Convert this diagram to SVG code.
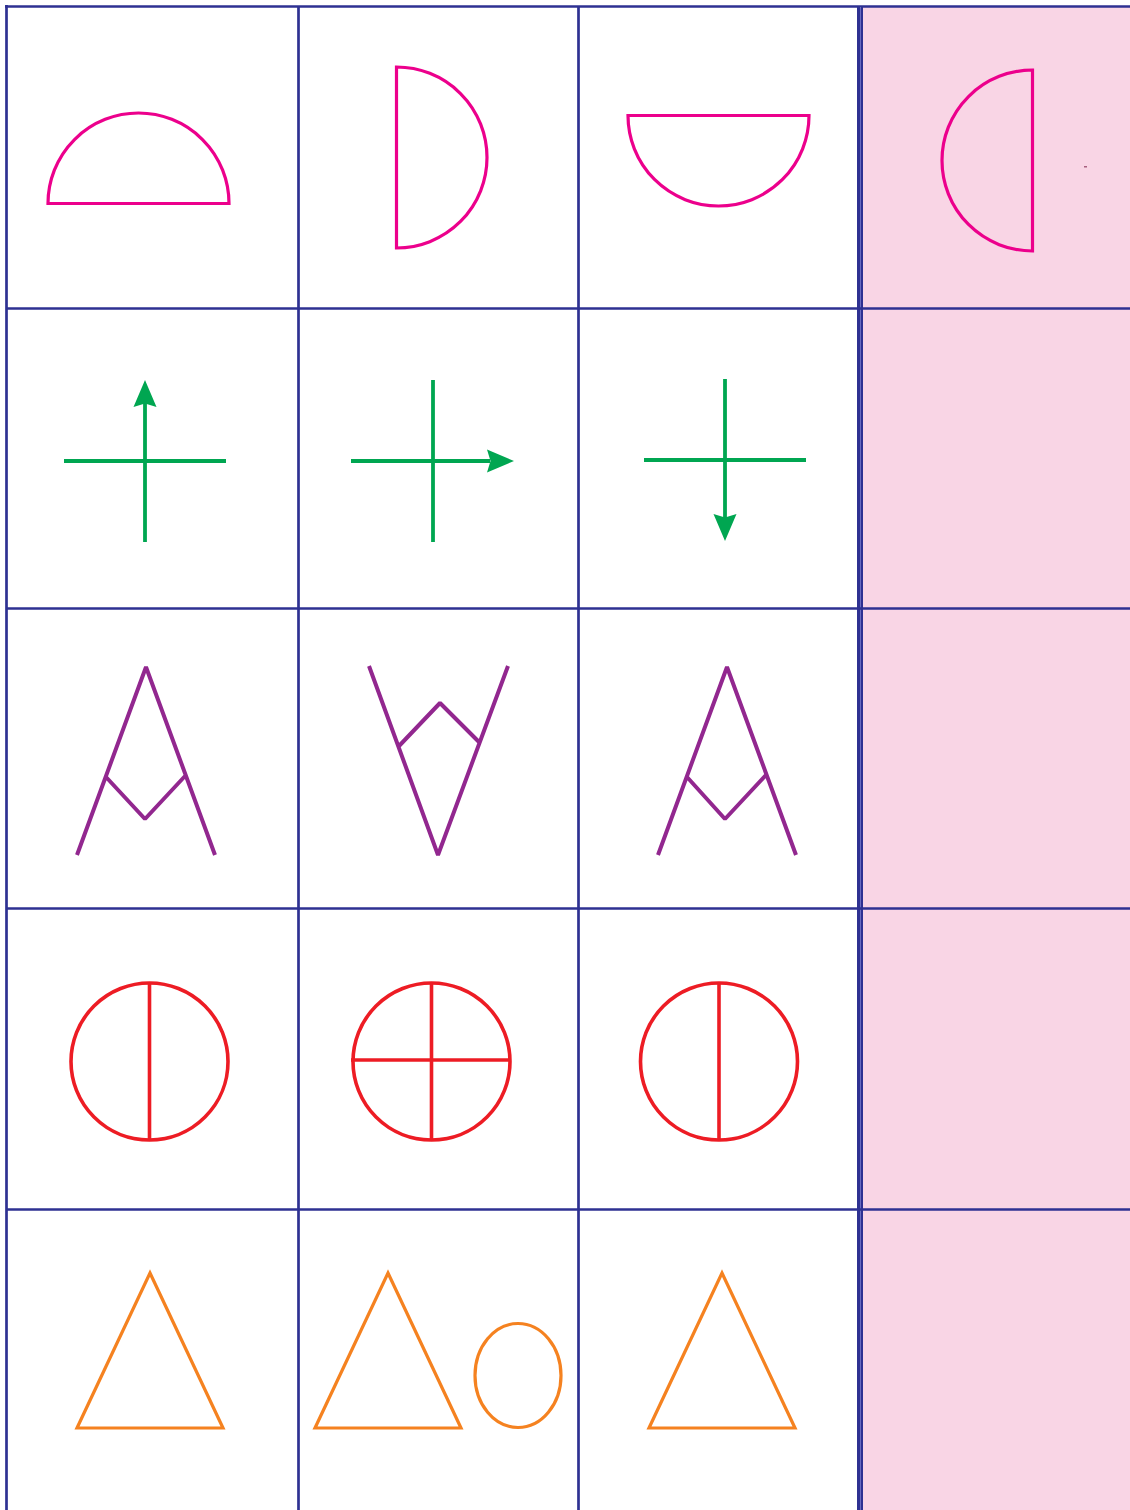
<svg xmlns="http://www.w3.org/2000/svg" width="1130" height="1510" viewBox="0 0 1130 1510">
<style>
.grid{stroke:#2e3192;stroke-width:2.7;fill:none}
.mag{stroke:#ec008c;stroke-width:3.2;fill:none}
.grn{stroke:#00a651;stroke-width:3.8;fill:none}
.gh{fill:#00a651}
.pur{stroke:#92278f;stroke-width:4;fill:none;stroke-linejoin:bevel}
.red{stroke:#ed1c24;stroke-width:3.6;fill:none}
.org{stroke:#f58220;stroke-width:3.2;fill:none}
</style>
<rect x="0" y="0" width="1130" height="1510" fill="#ffffff"/>
<rect x="862" y="7" width="268" height="1503" fill="#f9d5e5"/>
<g id="grid">
<line class="grid" x1="6.5" y1="5" x2="6.5" y2="1510" stroke-width="3"/>
<line class="grid" x1="5" y1="6.5" x2="1130" y2="6.5" stroke-width="3"/>
<line class="grid" x1="298.5" y1="7" x2="298.5" y2="1510"/>
<line class="grid" x1="578.5" y1="7" x2="578.5" y2="1510"/>
<rect x="857" y="7" width="6" height="1503" fill="#2e3192"/>
<line x1="860.5" y1="7" x2="860.5" y2="1510" stroke="#6a6cc0" stroke-width="1"/>
<line class="grid" x1="7" y1="308.5" x2="1130" y2="308.5"/>
<line class="grid" x1="7" y1="608.5" x2="1130" y2="608.5"/>
<line class="grid" x1="7" y1="908.5" x2="1130" y2="908.5"/>
<line class="grid" x1="7" y1="1209.5" x2="1130" y2="1209.5"/>
</g>
<g id="semicircle-up"><path class="mag" d="M48,203.5 A90.5,90.5 0 0 1 229,203.5 Z"/></g>
<g id="semicircle-right"><path class="mag" d="M396.5,67 A90.5,90.5 0 0 1 396.5,248 Z"/></g>
<g id="semicircle-down"><path class="mag" d="M628,115.5 A90.5,90.5 0 0 0 809,115.5 Z"/></g>
<g id="semicircle-left"><path class="mag" d="M1032.5,70 A90.5,90.5 0 0 0 1032.5,251 Z"/></g>
<g id="dot"><rect x="1084" y="166" width="3" height="1.5" fill="#a8607f"/></g>
<g id="cross-up">
<line class="grn" x1="64" y1="461" x2="226" y2="461"/>
<line class="grn" x1="145" y1="542" x2="145" y2="403"/>
<path class="gh" d="M145,380 L156.5,407 L145,403.5 L133.5,407 Z"/>
</g>
<g id="cross-right">
<line class="grn" x1="433" y1="380" x2="433" y2="542"/>
<line class="grn" x1="351" y1="461" x2="490" y2="461"/>
<path class="gh" d="M514,461 L487,449.5 L490.5,461 L487,472.5 Z"/>
</g>
<g id="cross-down">
<line class="grn" x1="644" y1="460" x2="806" y2="460"/>
<line class="grn" x1="725" y1="379" x2="725" y2="518"/>
<path class="gh" d="M725,541 L713.5,514 L725,517.5 L736.5,514 Z"/>
</g>
<g id="chevron-a1"><path class="pur" d="M77,855 L146,667 L215,855 M106,777 L145,819 L186,775"/></g>
<g id="chevron-v"><path class="pur" d="M369,666 L438,855 L508,666 M399,746 L440,703 L479,742"/></g>
<g id="chevron-a2"><path class="pur" d="M658,855 L727,667 L796,855 M687,777 L725,819 L766,775"/></g>
<g id="circle-half1">
<circle class="red" cx="149.5" cy="1061.5" r="78.5"/>
<line class="red" x1="149.5" y1="983" x2="149.5" y2="1140"/>
</g>
<g id="circle-quarters">
<circle class="red" cx="431.5" cy="1061.5" r="78.5"/>
<line class="red" x1="431.5" y1="983" x2="431.5" y2="1140"/>
<line class="red" x1="351" y1="1060" x2="511" y2="1060"/>
</g>
<g id="circle-half2">
<circle class="red" cx="719" cy="1061.5" r="78.5"/>
<line class="red" x1="719" y1="983" x2="719" y2="1140"/>
</g>
<g id="triangle1"><path class="org" d="M150,1273 L223,1428 L77,1428 Z"/></g>
<g id="triangle-oval">
<path class="org" d="M388,1273 L461,1428 L315,1428 Z"/>
<ellipse class="org" cx="518" cy="1375.5" rx="43" ry="52"/>
</g>
<g id="triangle3"><path class="org" d="M722,1273 L795,1428 L649,1428 Z"/></g>
</svg>
